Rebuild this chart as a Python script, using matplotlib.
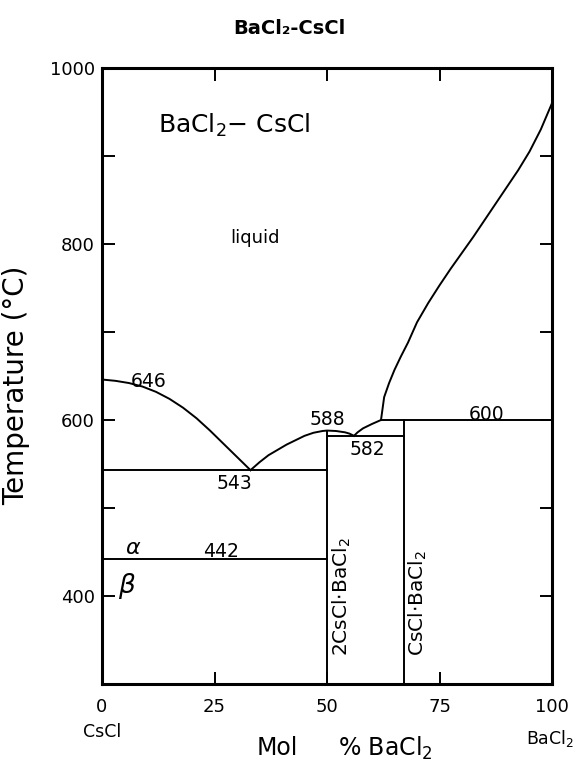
import numpy as np
import matplotlib.pyplot as plt

# liquidus branches (mol % BaCl2, temperature in C)
csc_liq_x = [0, 3, 6, 9, 12, 15, 18, 21, 24, 27, 30, 33]
csc_liq_t = [646, 644.5, 642, 638, 632, 624, 614, 602, 588, 573, 558, 543]

mid_liq_x = [33, 35, 37, 39, 41, 43, 45, 47, 49, 50, 52, 54, 55, 56]
mid_liq_t = [543, 552, 560, 566, 572, 577, 582, 585.5, 587.5, 588, 587.5, 586, 584.5, 582]

per_liq_x = [56, 56.8, 58, 60, 62]
per_liq_t = [582, 586, 590.5, 595.5, 600]

ba_liq_x = [62, 62.7, 63.8, 65, 66.4, 68, 70, 72.5, 75, 77.5, 80, 82.5, 85,
            87.5, 90, 92.5, 95, 97.5, 100]
ba_liq_t = [600, 626, 642, 657, 672, 688, 711, 733, 753, 772, 790, 808, 827,
            846, 865, 884, 905, 930, 960]

# invariant lines: (x_start, x_end, temperature)
eutectic = (0, 50, 543)
transition = (0, 50, 442)
eutectic2 = (50, 67, 582)
peritectic = (62, 100, 600)

# compounds: (composition, top temperature, label)
compounds = [(50, 588, "2CsCl$\\cdot$BaCl$_2$"), (67, 600, "CsCl$\\cdot$BaCl$_2$")]

fig = plt.figure(figsize=(5.79, 7.70), dpi=100)
ax = fig.add_axes([102 / 579, 1 - 684 / 770, 450 / 579, 616 / 770])

lw = 1.4
for xs, ts in [(csc_liq_x, csc_liq_t), (mid_liq_x, mid_liq_t),
               (per_liq_x, per_liq_t), (ba_liq_x, ba_liq_t)]:
    ax.plot(xs, ts, color='black', lw=lw)

for x0, x1, t in [eutectic, transition, eutectic2, peritectic]:
    ax.plot([x0, x1], [t, t], color='black', lw=lw)

for xc, top, name in compounds:
    ax.plot([xc, xc], [300, top], color='black', lw=lw)
    ax.text(xc + 0.8, 332, name, rotation=90, ha='left', va='bottom',
            fontsize=14.5)

# point labels
nfs = 13.5
ax.text(10.3, 644, "646", ha='center', va='center', fontsize=nfs)
ax.text(50, 601, "588", ha='center', va='center', fontsize=nfs)
ax.text(59, 566, "582", ha='center', va='center', fontsize=nfs)
ax.text(85.5, 606, "600", ha='center', va='center', fontsize=nfs)
ax.text(29.5, 528, "543", ha='center', va='center', fontsize=nfs)
ax.text(26.5, 451, "442", ha='center', va='center', fontsize=nfs)
ax.text(7, 455, "$\\alpha$", ha='center', va='center', fontsize=16)
ax.text(5.5, 411, "$\\beta$", ha='center', va='center', fontsize=19)
ax.text(12.5, 935, "BaCl$_2$$-$ CsCl", ha='left', va='center', fontsize=18)
ax.text(28.5, 807, "liquid", ha='left', va='center', fontsize=13)

ax.set_xlim(0, 100)
ax.set_ylim(300, 1000)
ax.set_xticks([0, 25, 50, 75, 100])
ax.set_yticks(np.arange(300, 1001, 100))
ax.set_yticklabels(['' if v % 200 else str(v) for v in range(300, 1001, 100)])
ax.tick_params(direction='in', length=9, width=1.4, top=True, right=True,
               labelsize=13)
ax.tick_params(axis='x', pad=10)
ax.tick_params(axis='y', pad=5)
for s in ax.spines.values():
    s.set_linewidth(2.2)

ax.set_ylabel("Temperature (°C)", fontsize=20)
ax.yaxis.set_label_coords(-0.16, 0.485)

ax.text(0, -0.078, "CsCl", transform=ax.transAxes, ha='center', va='center',
        fontsize=12.5)
ax.text(0.995, -0.088, "BaCl$_2$", transform=ax.transAxes, ha='center',
        va='center', fontsize=12.5)
ax.text(0.39, -0.104, "Mol", transform=ax.transAxes, ha='center', va='center',
        fontsize=17)
ax.text(0.63, -0.104, "% BaCl$_2$", transform=ax.transAxes, ha='center',
        va='center', fontsize=17)

fig.text(0.5, 1 - 28 / 770, "BaCl₂-CsCl", ha='center', va='center',
         fontsize=14, fontweight='bold')

fig.savefig("out.png", dpi=100)
